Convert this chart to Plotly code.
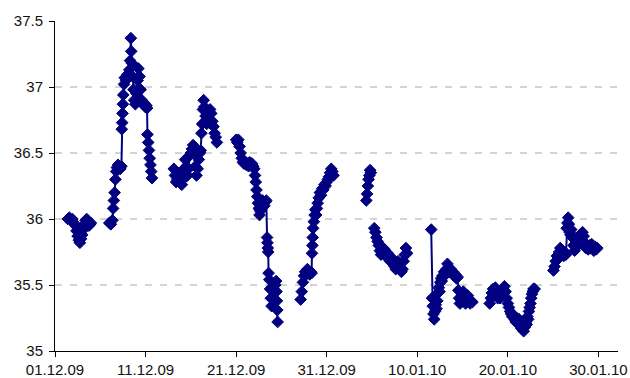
import plotly.graph_objects as go

# Exchange-rate readings, Dec 2009 - Jan 2010. None marks a break in trading.
stamps = [
    # 2-4 Dec
    "2009-12-02 10:00", "2009-12-02 14:00", "2009-12-02 18:00", "2009-12-02 22:00",
    "2009-12-03 02:00", "2009-12-03 06:00", "2009-12-03 09:00", "2009-12-03 12:00",
    "2009-12-03 15:00", "2009-12-03 18:00", "2009-12-03 21:00", "2009-12-04 00:00",
    "2009-12-04 03:00", "2009-12-04 06:00", "2009-12-04 09:00", "2009-12-04 12:00",
    "2009-12-04 15:00", "2009-12-04 18:00", "2009-12-04 21:00", "2009-12-04 23:00",
    None,
    # 7-11 Dec
    "2009-12-07 00:00", "2009-12-07 04:00", "2009-12-07 08:00", "2009-12-07 10:00",
    "2009-12-07 12:00", "2009-12-07 14:00", "2009-12-07 16:00", "2009-12-07 18:00",
    "2009-12-07 20:00", "2009-12-07 23:00", "2009-12-08 02:00", "2009-12-08 05:00",
    "2009-12-08 08:00", "2009-12-08 09:00", "2009-12-08 10:00", "2009-12-08 11:00",
    "2009-12-08 12:00", "2009-12-08 13:00", "2009-12-08 15:00", "2009-12-08 17:00",
    "2009-12-08 20:00", "2009-12-08 23:00", "2009-12-09 02:00", "2009-12-09 05:00",
    "2009-12-09 07:00", "2009-12-09 09:00", "2009-12-09 10:00", "2009-12-09 12:00",
    "2009-12-09 14:00", "2009-12-09 16:00", "2009-12-09 18:00", "2009-12-09 21:00",
    "2009-12-10 00:00", "2009-12-10 03:00", "2009-12-10 05:00", "2009-12-10 08:00",
    "2009-12-10 11:00", "2009-12-10 14:00", "2009-12-10 17:00", "2009-12-10 20:00",
    "2009-12-10 23:00", "2009-12-11 02:00", "2009-12-11 04:00", "2009-12-11 05:00",
    "2009-12-11 07:00", "2009-12-11 09:00", "2009-12-11 11:00", "2009-12-11 13:00",
    "2009-12-11 15:00", "2009-12-11 17:00",
    None,
    # 14-18 Dec
    "2009-12-14 03:00", "2009-12-14 06:00", "2009-12-14 09:00", "2009-12-14 12:00",
    "2009-12-14 15:00", "2009-12-14 18:00", "2009-12-14 21:00", "2009-12-15 00:00",
    "2009-12-15 03:00", "2009-12-15 06:00", "2009-12-15 09:00", "2009-12-15 12:00",
    "2009-12-15 15:00", "2009-12-15 18:00", "2009-12-15 21:00", "2009-12-16 00:00",
    "2009-12-16 03:00", "2009-12-16 06:00", "2009-12-16 09:00", "2009-12-16 12:00",
    "2009-12-16 15:00", "2009-12-16 18:00", "2009-12-16 21:00", "2009-12-17 00:00",
    "2009-12-17 02:00", "2009-12-17 04:00", "2009-12-17 06:00", "2009-12-17 08:00",
    "2009-12-17 10:00", "2009-12-17 12:00", "2009-12-17 15:00", "2009-12-17 18:00",
    "2009-12-17 21:00", "2009-12-18 00:00", "2009-12-18 03:00", "2009-12-18 06:00",
    "2009-12-18 09:00", "2009-12-18 12:00", "2009-12-18 15:00", "2009-12-18 18:00",
    "2009-12-18 21:00",
    None,
    # 21-25 Dec
    "2009-12-21 00:00", "2009-12-21 03:00", "2009-12-21 06:00", "2009-12-21 09:00",
    "2009-12-21 12:00", "2009-12-21 15:00", "2009-12-21 18:00", "2009-12-21 21:00",
    "2009-12-22 00:00", "2009-12-22 03:00", "2009-12-22 06:00", "2009-12-22 09:00",
    "2009-12-22 12:00", "2009-12-22 15:00", "2009-12-22 18:00", "2009-12-22 21:00",
    "2009-12-23 00:00", "2009-12-23 02:00", "2009-12-23 04:00", "2009-12-23 06:00",
    "2009-12-23 08:00", "2009-12-23 10:00", "2009-12-23 12:00", "2009-12-23 14:00",
    "2009-12-23 16:00", "2009-12-23 18:00", "2009-12-23 20:00", "2009-12-23 22:00",
    "2009-12-24 00:00", "2009-12-24 03:00", "2009-12-24 06:00", "2009-12-24 08:00",
    "2009-12-24 10:00", "2009-12-24 11:00", "2009-12-24 12:00", "2009-12-24 13:00",
    "2009-12-24 14:00", "2009-12-24 16:00", "2009-12-24 18:00", "2009-12-24 20:00",
    "2009-12-24 22:00", "2009-12-25 00:00", "2009-12-25 02:00", "2009-12-25 04:00",
    "2009-12-25 06:00", "2009-12-25 08:00", "2009-12-25 10:00", "2009-12-25 11:00",
    "2009-12-25 12:00", "2009-12-25 13:00", "2009-12-25 14:00",
    None,
    # 28-31 Dec
    "2009-12-28 03:00", "2009-12-28 06:00", "2009-12-28 09:00", "2009-12-28 12:00",
    "2009-12-28 15:00", "2009-12-28 18:00", "2009-12-28 21:00", "2009-12-29 00:00",
    "2009-12-29 03:00", "2009-12-29 06:00", "2009-12-29 08:00", "2009-12-29 09:00",
    "2009-12-29 10:00", "2009-12-29 11:00", "2009-12-29 12:00", "2009-12-29 14:00",
    "2009-12-29 16:00", "2009-12-29 18:00", "2009-12-29 20:00", "2009-12-29 22:00",
    "2009-12-30 00:00", "2009-12-30 03:00", "2009-12-30 06:00", "2009-12-30 09:00",
    "2009-12-30 12:00", "2009-12-30 15:00", "2009-12-30 18:00", "2009-12-30 21:00",
    "2009-12-31 00:00", "2009-12-31 03:00", "2009-12-31 06:00", "2009-12-31 09:00",
    "2009-12-31 12:00", "2009-12-31 15:00", "2009-12-31 18:00",
    None,
    # 4 Jan
    "2010-01-04 09:00", "2010-01-04 11:00", "2010-01-04 13:00", "2010-01-04 15:00",
    "2010-01-04 17:00", "2010-01-04 19:00", "2010-01-04 21:00",
    None,
    # 5-8 Jan
    "2010-01-05 06:00", "2010-01-05 09:00", "2010-01-05 12:00", "2010-01-05 15:00",
    "2010-01-05 18:00", "2010-01-05 21:00", "2010-01-06 00:00", "2010-01-06 03:00",
    "2010-01-06 06:00", "2010-01-06 09:00", "2010-01-06 12:00", "2010-01-06 15:00",
    "2010-01-06 18:00", "2010-01-06 21:00", "2010-01-07 00:00", "2010-01-07 03:00",
    "2010-01-07 06:00", "2010-01-07 09:00", "2010-01-07 12:00", "2010-01-07 15:00",
    "2010-01-07 18:00", "2010-01-07 21:00", "2010-01-08 00:00", "2010-01-08 03:00",
    "2010-01-08 06:00", "2010-01-08 09:00", "2010-01-08 12:00", "2010-01-08 15:00",
    "2010-01-08 18:00", "2010-01-08 21:00",
    None,
    # 11-16 Jan
    "2010-01-11 13:00", "2010-01-11 15:00", "2010-01-11 17:00", "2010-01-11 19:00",
    "2010-01-11 21:00", "2010-01-11 23:00", "2010-01-12 01:00", "2010-01-12 03:00",
    "2010-01-12 05:00", "2010-01-12 07:00", "2010-01-12 09:00", "2010-01-12 11:00",
    "2010-01-12 13:00", "2010-01-12 15:00", "2010-01-12 17:00", "2010-01-12 19:00",
    "2010-01-12 21:00", "2010-01-12 23:00", "2010-01-13 02:00", "2010-01-13 05:00",
    "2010-01-13 08:00", "2010-01-13 11:00", "2010-01-13 14:00", "2010-01-13 17:00",
    "2010-01-13 20:00", "2010-01-13 23:00", "2010-01-14 02:00", "2010-01-14 05:00",
    "2010-01-14 08:00", "2010-01-14 11:00", "2010-01-14 13:00", "2010-01-14 15:00",
    "2010-01-14 17:00", "2010-01-14 19:00", "2010-01-14 21:00", "2010-01-14 23:00",
    "2010-01-15 02:00", "2010-01-15 05:00", "2010-01-15 08:00", "2010-01-15 11:00",
    "2010-01-15 14:00", "2010-01-15 17:00", "2010-01-15 20:00", "2010-01-15 23:00",
    "2010-01-16 02:00",
    None,
    # 18-22 Jan
    "2010-01-18 00:00", "2010-01-18 03:00", "2010-01-18 06:00", "2010-01-18 09:00",
    "2010-01-18 12:00", "2010-01-18 15:00", "2010-01-18 18:00", "2010-01-18 21:00",
    "2010-01-19 00:00", "2010-01-19 03:00", "2010-01-19 06:00", "2010-01-19 09:00",
    "2010-01-19 12:00", "2010-01-19 15:00", "2010-01-19 18:00", "2010-01-19 21:00",
    "2010-01-20 00:00", "2010-01-20 03:00", "2010-01-20 06:00", "2010-01-20 09:00",
    "2010-01-20 12:00", "2010-01-20 15:00", "2010-01-20 18:00", "2010-01-20 21:00",
    "2010-01-21 00:00", "2010-01-21 03:00", "2010-01-21 06:00", "2010-01-21 09:00",
    "2010-01-21 12:00", "2010-01-21 15:00", "2010-01-21 18:00", "2010-01-21 21:00",
    "2010-01-22 00:00", "2010-01-22 02:00", "2010-01-22 04:00", "2010-01-22 06:00",
    "2010-01-22 08:00", "2010-01-22 10:00", "2010-01-22 12:00", "2010-01-22 14:00",
    "2010-01-22 16:00", "2010-01-22 18:00", "2010-01-22 20:00", "2010-01-22 23:00",
    None,
    # 25-29 Jan
    "2010-01-25 01:00", "2010-01-25 04:00", "2010-01-25 07:00", "2010-01-25 10:00",
    "2010-01-25 13:00", "2010-01-25 16:00", "2010-01-25 19:00", "2010-01-25 22:00",
    "2010-01-26 01:00", "2010-01-26 04:00", "2010-01-26 07:00", "2010-01-26 10:00",
    "2010-01-26 12:00", "2010-01-26 14:00", "2010-01-26 16:00", "2010-01-26 18:00",
    "2010-01-26 20:00", "2010-01-26 22:00", "2010-01-27 00:00", "2010-01-27 03:00",
    "2010-01-27 06:00", "2010-01-27 09:00", "2010-01-27 12:00", "2010-01-27 15:00",
    "2010-01-27 18:00", "2010-01-27 21:00", "2010-01-28 00:00", "2010-01-28 03:00",
    "2010-01-28 06:00", "2010-01-28 09:00", "2010-01-28 12:00", "2010-01-28 15:00",
    "2010-01-28 18:00", "2010-01-28 21:00", "2010-01-29 00:00", "2010-01-29 03:00",
    "2010-01-29 06:00", "2010-01-29 09:00", "2010-01-29 12:00", "2010-01-29 15:00",
    "2010-01-29 18:00", "2010-01-29 21:00",
]

rates = [
    # 2-4 Dec
    36.00, 36.01, 35.99, 36.00, 35.97, 35.95, 35.91, 35.87, 35.84, 35.82,
    35.85, 35.88, 35.92, 35.96, 35.99, 36.00, 35.98, 35.95, 35.96, 35.97,
    None,
    # 7-11 Dec
    35.97, 35.96, 35.99, 36.08, 36.14, 36.20, 36.30, 36.36, 36.39, 36.41,
    36.40, 36.38, 36.40, 36.68, 36.73, 36.80, 36.87, 36.94, 37.02, 37.07,
    37.05, 37.09, 37.10, 37.13, 37.20, 37.37, 37.27, 37.18, 37.08, 36.98,
    36.90, 36.87, 36.95, 37.05, 37.14, 37.08, 36.98, 36.90, 36.87, 36.88,
    36.85, 36.86, 36.84, 36.64, 36.58, 36.52, 36.46, 36.41, 36.36, 36.31,
    None,
    # 14-18 Dec
    36.38, 36.33, 36.28, 36.30, 36.35, 36.31, 36.27, 36.26, 36.30, 36.38,
    36.45, 36.40, 36.33, 36.38, 36.48, 36.50, 36.53, 36.56, 36.50, 36.40,
    36.33, 36.38, 36.45, 36.50, 36.52, 36.65, 36.72, 36.83, 36.90, 36.85,
    36.78, 36.72, 36.78, 36.82, 36.83, 36.80, 36.74, 36.70, 36.65, 36.62,
    36.58,
    None,
    # 21-25 Dec
    36.60, 36.58, 36.60, 36.55, 36.50, 36.46, 36.43, 36.42, 36.43, 36.41,
    36.42, 36.40, 36.43, 36.41, 36.42, 36.40, 36.38, 36.33, 36.28, 36.22,
    36.17, 36.12, 36.08, 36.03, 36.06, 36.10, 36.12, 36.14, 36.12, 36.10,
    36.13, 36.14, 35.86, 35.82, 35.78, 35.75, 35.59, 35.54, 35.47, 35.40,
    35.34, 35.40, 35.46, 35.50, 35.45, 35.50, 35.53, 35.45, 35.38, 35.31,
    35.22,
    None,
    # 28-31 Dec
    35.39, 35.45, 35.52, 35.57, 35.60, 35.58, 35.62, 35.60, 35.58, 35.60,
    35.59, 35.74, 35.80, 35.86, 35.93, 35.98, 36.03, 36.07, 36.03, 36.08,
    36.12, 36.16, 36.20, 36.18, 36.23, 36.22, 36.26, 36.25, 36.28, 36.30,
    36.32, 36.35, 36.38, 36.36, 36.33,
    None,
    # 4 Jan
    36.14, 36.19, 36.25, 36.30, 36.33, 36.37, 36.35,
    None,
    # 5-8 Jan
    35.93, 35.90, 35.86, 35.83, 35.80, 35.76, 35.73, 35.75, 35.78, 35.77,
    35.74, 35.71, 35.74, 35.70, 35.68, 35.71, 35.68, 35.66, 35.64, 35.62,
    35.65, 35.68, 35.66, 35.63, 35.60, 35.62, 35.68, 35.73, 35.78, 35.74,
    None,
    # 11-16 Jan
    35.92, 35.40, 35.34, 35.28, 35.24, 35.30, 35.35, 35.32, 35.38, 35.44,
    35.48, 35.45, 35.52, 35.55, 35.53, 35.57, 35.56, 35.60, 35.58, 35.62,
    35.66, 35.63, 35.60, 35.62, 35.59, 35.60, 35.57, 35.58, 35.55, 35.56,
    35.46, 35.40, 35.36, 35.40, 35.37, 35.42, 35.45, 35.40, 35.36, 35.38,
    35.42, 35.38, 35.36, 35.38, 35.37,
    None,
    # 18-22 Jan
    35.36, 35.40, 35.44, 35.47, 35.45, 35.48, 35.43, 35.40, 35.42, 35.40,
    35.43, 35.46, 35.44, 35.49, 35.45, 35.40, 35.36, 35.33, 35.30, 35.28,
    35.26, 35.27, 35.24, 35.22, 35.25, 35.21, 35.24, 35.20, 35.17, 35.19,
    35.15, 35.18, 35.22, 35.20, 35.26, 35.24, 35.30, 35.33, 35.36, 35.40,
    35.43, 35.45, 35.47, 35.47,
    None,
    # 25-29 Jan
    35.61, 35.64, 35.68, 35.72, 35.70, 35.75, 35.78, 35.74, 35.76, 35.72,
    35.75, 35.73, 35.93, 35.97, 36.01, 35.96, 35.90, 35.88, 35.92, 35.86,
    35.80, 35.76, 35.80, 35.84, 35.80, 35.84, 35.88, 35.86, 35.90, 35.87,
    35.82, 35.78, 35.80, 35.77, 35.80, 35.78, 35.81, 35.78, 35.76, 35.79,
    35.77, 35.78,
]

y_ticks = [35, 35.5, 36, 36.5, 37, 37.5]

NAVY = "#000080"
FONT = dict(family="Liberation Sans, Arial, sans-serif", size=15, color="#111111")

fig = go.Figure(
    go.Scatter(
        x=stamps,
        y=rates,
        mode="lines+markers",
        connectgaps=False,
        line=dict(color=NAVY, width=2),
        marker=dict(symbol="diamond", size=9, color=NAVY, line=dict(color=NAVY, width=1)),
        cliponaxis=False,
        showlegend=False,
    )
)

fig.update_layout(
    width=630,
    height=378,
    margin=dict(l=55, r=12, t=21, b=27),
    paper_bgcolor="white",
    plot_bgcolor="white",
    font=FONT,
)

fig.update_xaxes(
    type="date",
    range=["2009-12-01", "2010-02-01 04:00"],
    tick0="2009-12-01",
    dtick=10 * 24 * 3600 * 1000,
    tickformat="%d.%m.%y",
    ticks="outside",
    ticklen=5,
    tickcolor="black",
    ticklabelstandoff=0,
    automargin=False,
    showline=True,
    linecolor="black",
    linewidth=1,
    showgrid=False,
    zeroline=False,
    tickfont=FONT,
)

fig.update_yaxes(
    range=[35, 37.5],
    tickvals=y_ticks,
    ticktext=[f"{v:g}" for v in y_ticks],
    ticks="outside",
    ticklen=5,
    tickcolor="black",
    ticklabelstandoff=3,
    automargin=False,
    showline=True,
    linecolor="black",
    linewidth=1,
    showgrid=True,
    gridcolor="#d4d4d4",
    gridwidth=1.5,
    griddash="7px,8px",
    zeroline=False,
    tickfont=FONT,
)

fig.write_html("out.html")
